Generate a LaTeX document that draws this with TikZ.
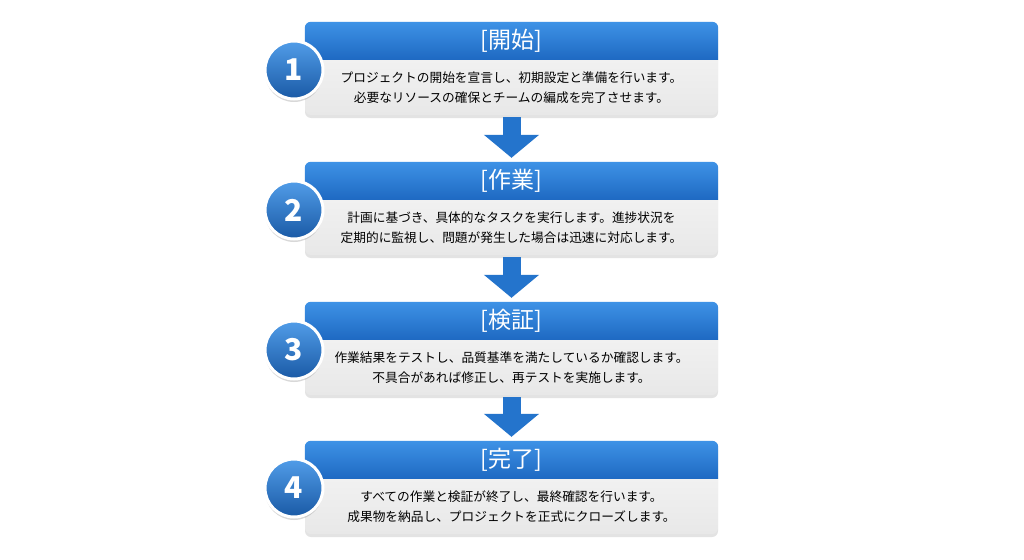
\documentclass[tikz,border=0pt]{standalone}
\usepackage{fontspec}
\setmainfont{Noto Sans CJK JP}
\usetikzlibrary{arrows.meta,shadows}

\definecolor{hdrtop}{HTML}{3E92E6}
\definecolor{hdrbot}{HTML}{1E69C2}
\definecolor{bodytop}{HTML}{F7F7F7}
\definecolor{bodybot}{HTML}{E8E8E8}
\definecolor{flowblue}{HTML}{2474CC}

\tikzset{
  stepbox/.style={rectangle,rounded corners=6pt,minimum width=413pt,
    minimum height=93pt,inner sep=0pt,top color=bodytop,bottom color=bodybot,
    drop shadow={opacity=0.22,shadow xshift=0pt,shadow yshift=-3pt}},
  hdr/.style={top color=hdrtop,bottom color=hdrbot},
  hdrtext/.style={text=white,font=\fontsize{23}{26}\selectfont},
  desc/.style={align=center,font=\fontsize{12.7}{20}\selectfont},
  numball/.style={circle,minimum size=58pt,inner sep=0pt,draw=white,line width=3pt,
    top color=hdrtop!90!white,bottom color=hdrbot!85!black,text=white,
    font=\fontsize{30}{30}\selectfont\bfseries,
    drop shadow={opacity=0.3,shadow xshift=0pt,shadow yshift=-3pt}},
  flow/.style={flowblue,line width=18pt,shorten <=2pt,shorten >=4pt,
    -{Triangle[length=23pt,width=54pt]}}
}

\begin{document}
\begin{tikzpicture}[x=1pt,y=-1pt]
  \useasboundingbox[fill=white] (0,0) rectangle (1024,559);

  % step boxes
  \node[stepbox] (s1) at (511.5,68.5) {};
  \node[stepbox] (s2) at (511.5,208.5) {};
  \node[stepbox] (s3) at (511.5,348.5) {};
  \node[stepbox] (s4) at (511.5,487.5) {};

  % blue headers
  \path[hdr] ([yshift=-38pt]s1.north west) [rounded corners=6pt]-- (s1.north west)
    -- (s1.north east) [sharp corners]-- ([yshift=-38pt]s1.north east) -- cycle;
  \path[hdr] ([yshift=-38pt]s2.north west) [rounded corners=6pt]-- (s2.north west)
    -- (s2.north east) [sharp corners]-- ([yshift=-38pt]s2.north east) -- cycle;
  \path[hdr] ([yshift=-38pt]s3.north west) [rounded corners=6pt]-- (s3.north west)
    -- (s3.north east) [sharp corners]-- ([yshift=-38pt]s3.north east) -- cycle;
  \path[hdr] ([yshift=-38pt]s4.north west) [rounded corners=6pt]-- (s4.north west)
    -- (s4.north east) [sharp corners]-- ([yshift=-38pt]s4.north east) -- cycle;

  \node[hdrtext] (t1) at ([yshift=-19pt]s1.north) {[開始]};
  \node[hdrtext] (t2) at ([yshift=-19pt]s2.north) {[作業]};
  \node[hdrtext] (t3) at ([yshift=-19pt]s3.north) {[検証]};
  \node[hdrtext] (t4) at ([yshift=-19pt]s4.north) {[完了]};

  \node[desc] (d1) at ([yshift=-19pt]s1.center)
    {プロジェクトの開始を宣言し、初期設定と準備を行います。\\必要なリソースの確保とチームの編成を完了させます。};
  \node[desc] (d2) at ([yshift=-19pt]s2.center)
    {計画に基づき、具体的なタスクを実行します。進捗状況を\\定期的に監視し、問題が発生した場合は迅速に対応します。};
  \node[desc] (d3) at ([yshift=-19pt]s3.center)
    {作業結果をテストし、品質基準を満たしているか確認します。\\不具合があれば修正し、再テストを実施します。};
  \node[desc] (d4) at ([yshift=-19pt]s4.center)
    {すべての作業と検証が終了し、最終確認を行います。\\成果物を納品し、プロジェクトを正式にクローズします。};

  % number balls
  \node[numball] (n1) at (294,70) {1};
  \node[numball] (n2) at (294,210) {2};
  \node[numball] (n3) at (294,350) {3};
  \node[numball] (n4) at (294,488) {4};

  % arrows between steps
  \draw[flow] (s1.south) -- (s2.north);
  \draw[flow] (s2.south) -- (s3.north);
  \draw[flow] (s3.south) -- (s4.north);
\end{tikzpicture}
\end{document}
